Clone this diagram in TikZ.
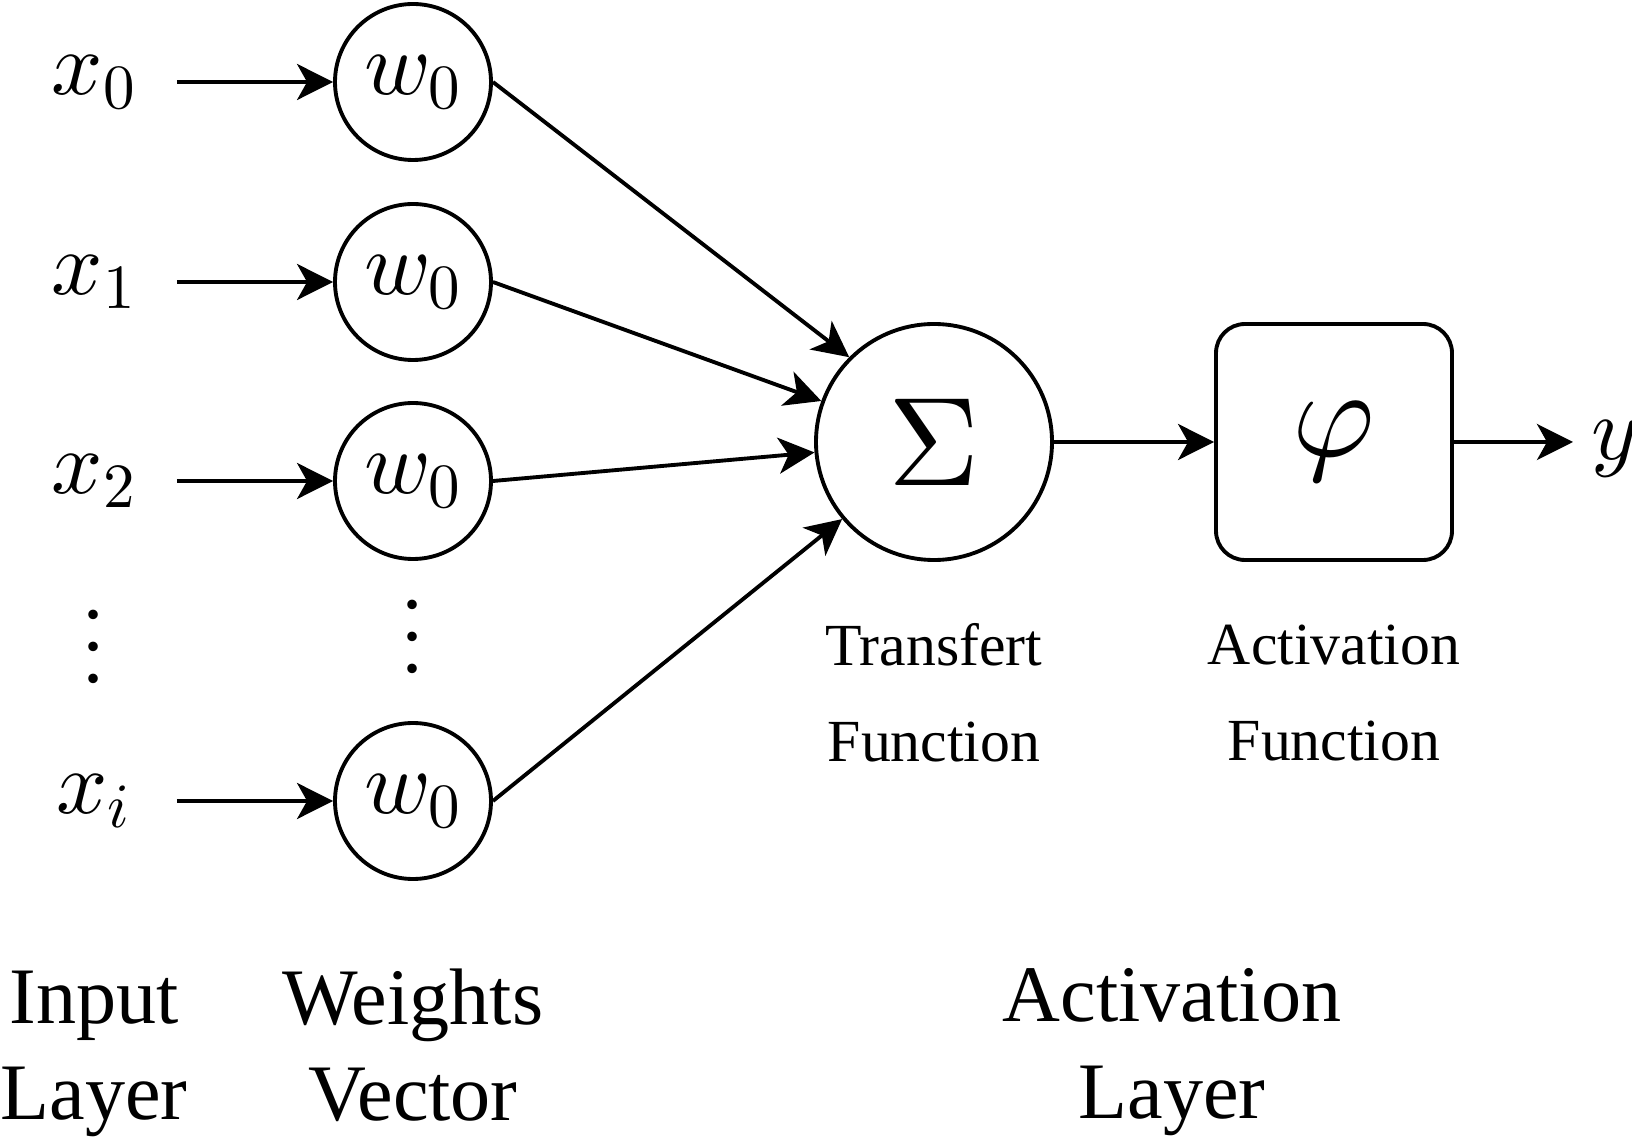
\RequirePackage{fix-cm}
\documentclass[tikz,border=0pt]{standalone}
\usepackage{fontspec}
\setmainfont{Liberation Serif}
\DeclareFontShape{OT1}{cmr}{m}{n}{<->cmr10}{}
\DeclareFontShape{OML}{cmm}{m}{it}{<->cmmi10}{}
\usepackage{graphicx}
\usepackage{tikz}
\usetikzlibrary{arrows.meta}

\begin{document}
\begin{tikzpicture}[x=0.1mm,y=-0.1mm,
    line width=1.1pt,
    >={Stealth[length=3.6mm,width=3.6mm,inset=1mm]},
    mathlbl/.style={font=\fontsize{25.6}{30}\selectfont,inner sep=0pt},
    inlbl/.style={mathlbl,minimum width=16.2mm},
    weight/.style={circle,draw,mathlbl,minimum size=15.6mm},
    bigsym/.style={font=\fontsize{35.9}{40}\selectfont,inner sep=0pt},
    funlbl/.style={align=center,inner sep=0pt,font=\fontsize{17}{27.4}\selectfont},
    layerlbl/.style={align=center,inner sep=0pt,font=\fontsize{22.8}{27.4}\selectfont}]
  \useasboundingbox (0,0) rectangle (1632,1137);

  \node[inlbl] (x0) at (94,82) {$x_0$};
  \node[inlbl] (x1) at (94,282) {$x_1$};
  \node[inlbl] (x2) at (94,481) {$x_2$};
  \node[inlbl] (xi) at (94,801) {$x_i$};
  \node[inner sep=0pt] (xdots) at (94,623) {\scalebox{2.28}{$\vdots$}};

  \node[weight] (w0) at (413,82) {$w_0$};
  \node[weight] (w1) at (413,282) {$w_0$};
  \node[weight] (w2) at (413,481) {$w_0$};
  \node[weight] (wi) at (413,801) {$w_0$};
  \node[inner sep=0pt] (wdots) at (413,613) {\scalebox{2.28}{$\vdots$}};

  \node[circle,draw,bigsym,minimum size=23.6mm] (sum) at (934,442) {$\Sigma$};
  \node[draw,bigsym,rounded corners=2.9mm,minimum width=23.6mm,minimum height=23.6mm] (act) at (1334,442) {$\varphi$};
  \coordinate (yend) at (1573,442);
  \node[mathlbl,anchor=base west] (yout) at (1590,460) {$y$};

  % inputs to weights
  \draw[->] (x0) -- (w0);
  \draw[->] (x1) -- (w1);
  \draw[->] (x2) -- (w2);
  \draw[->] (xi) -- (wi);

  % weights to sum
  \draw[->] (w0.east) -- (sum.135);
  \draw[->] (w1.east) -- (sum.160);
  \draw[->] (w2.east) -- (sum.185);
  \draw[->] (wi.east) -- (sum.220);

  \draw[->] (sum) -- (act);
  \draw[->] (act) -- (yend);

  \node[funlbl] (sumlbl) at (934,693) {Transfert\\Function};
  \node[funlbl] (actlbl) at (1334,693) {Activation\\Function};

  \node[layerlbl] (inlayer) at (94,1054) {Input\\Layer};
  \node[layerlbl] (wvec) at (413,1045) {Weights\\Vector};
  \node[layerlbl] (actlayer) at (1172,1052) {Activation\\Layer};
\end{tikzpicture}
\end{document}
